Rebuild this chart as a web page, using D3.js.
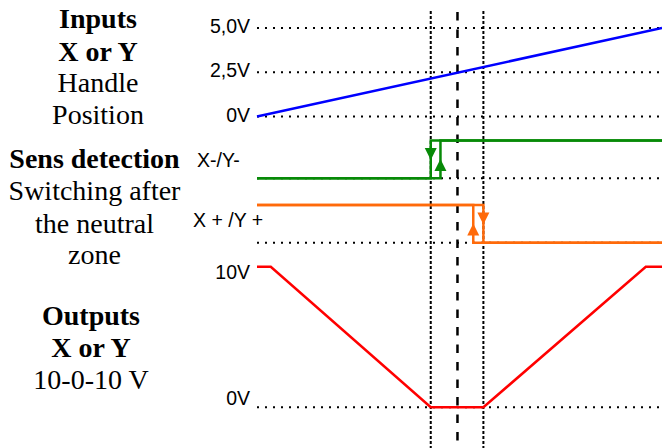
<!DOCTYPE html>
<html>
<head>
<meta charset="utf-8">
<script src="https://cdn.jsdelivr.net/npm/d3@7"></script>
<style>
	body { margin: 0; background: #fff; }
	svg { display: block; }
	.axis-label { font-family: "Liberation Sans", Arial, sans-serif; font-size: 19.5px; fill: #000; }
	.side { font-family: "Liberation Serif", "Times New Roman", serif; font-size: 28px; fill: #000; }
</style>
</head>
<body>
<svg id="chart" width="662" height="448"></svg>
<script>
// handle position in % of travel, volts
var inputTicks = [5, 2.5, 0];
var inputTickLabels = ['5,0V', '2,5V', '0V'];
var inputLine = [[0, 0], [100, 5]];

var outputTicks = [10, 0];
var outputTickLabels = ['10V', '0V'];
var outputLine = [[0, 10], [3.4, 10], [42.9, 0], [55.9, 0], [96, 10], [100, 10]];

var neutralZone = [42.9, 55.9];
var centrePos = 49.5;

// sens detection, 0 = off, 1 = on
var sensLabels = ['X-/Y-', 'X + /Y +'];
var minusRise = [[0, 0], [45.3, 0], [45.3, 1], [100, 1]];
var minusFall = [[100, 1], [42.9, 1], [42.9, 0], [0, 0]];
var plusFall = [[0, 1], [55.9, 1], [55.9, 0], [100, 0]];
var plusRise = [[100, 0], [53.4, 0], [53.4, 1], [0, 1]];
// arrows: [position, level along the edge, direction]
var minusArrows = [[42.9, 0.64, 'down'], [45.3, 0.35, 'up']];
var plusArrows = [[55.9, 0.64, 'down'], [53.4, 0.35, 'up']];

var sideTitles = [
	{ x: 98, lines: [['Inputs', true], ['X or Y', true], ['Handle', false], ['Position', false]], y: [28, 60.5, 92, 123.5] },
	{ x: 94.5, lines: [['Sens detection', true], ['Switching after', false], ['the neutral', false], ['zone', false]], y: [168, 200, 233, 263.5] },
	{ x: 91, lines: [['Outputs', true], ['X or Y', true], ['10-0-10 V', false]], y: [325, 356.5, 389] }
];

var svg = d3.select('#chart');

var x = d3.scaleLinear().domain([0, 100]).range([257, 662]);
var yIn = d3.scaleLinear().domain([0, 5]).range([116.5, 28]);
var yOut = d3.scaleLinear().domain([0, 10]).range([407.3, 266.7]);
var yMinus = d3.scaleLinear().domain([0, 1]).range([178.3, 140.5]);
var yPlus = d3.scaleLinear().domain([0, 1]).range([242.7, 205]);

var dotted = '2,6';

// horizontal dotted references
function hDots(yVal) {
	svg.append('line')
		.attr('x1', x(0)).attr('x2', x(100))
		.attr('y1', yVal).attr('y2', yVal)
		.attr('stroke', '#000')
		.attr('stroke-width', 2)
		.attr('stroke-dasharray', dotted);
}
inputTicks.forEach(d => hDots(yIn(d)));
hDots(yMinus(0));
hDots(yPlus(0));
hDots(yOut(0));

// neutral zone guides
svg.selectAll('.guide')
	.data(neutralZone)
	.enter()
	.append('line')
		.classed('guide', true)
		.attr('x1', d => x(d)).attr('x2', d => x(d))
		.attr('y1', 11).attr('y2', 448)
		.attr('stroke', '#000')
		.attr('stroke-width', 2)
		.attr('stroke-dasharray', '3,2');

svg.append('line')
	.attr('x1', x(centrePos)).attr('x2', x(centrePos))
	.attr('y1', 12).attr('y2', 448)
	.attr('stroke', '#000')
	.attr('stroke-width', 2.5)
	.attr('stroke-dasharray', '8.5,9');

function drawLine(data, yScale, colour) {
	var line = d3.line().x(d => x(d[0])).y(d => yScale(d[1]));
	svg.append('path')
		.attr('d', line(data))
		.attr('fill', 'none')
		.attr('stroke', colour)
		.attr('stroke-width', 2.5)
		.attr('stroke-linejoin', 'miter');
}

drawLine(inputLine, yIn, '#0000ff');
drawLine(minusRise, yMinus, '#078a07');
drawLine(minusFall, yMinus, '#078a07');
drawLine(plusFall, yPlus, '#ff6a0a');
drawLine(plusRise, yPlus, '#ff6a0a');
drawLine(outputLine, yOut, '#ff0000');

function drawArrows(data, yScale, colour) {
	svg.selectAll(null)
		.data(data)
		.enter()
		.append('path')
			.attr('d', 'M-6,6L6,6L0,-6Z')
			.attr('fill', colour)
			.attr('transform', d => 'translate(' + x(d[0]) + ',' + yScale(d[1]) + ') rotate(' + (d[2] === 'down' ? 180 : 0) + ')');
}
drawArrows(minusArrows, yMinus, '#078a07');
drawArrows(plusArrows, yPlus, '#ff6a0a');

// axis labels
svg.selectAll('.in-label')
	.data(inputTicks)
	.enter()
	.append('text')
		.attr('class', 'axis-label')
		.attr('x', 250)
		.attr('y', d => yIn(d) + 5)
		.attr('text-anchor', 'end')
		.text((d, i) => inputTickLabels[i]);

svg.selectAll('.out-label')
	.data(outputTicks)
	.enter()
	.append('text')
		.attr('class', 'axis-label')
		.attr('x', 250)
		.attr('y', (d, i) => i === 0 ? yOut(d) + 12 : yOut(d) - 2)
		.attr('text-anchor', 'end')
		.text((d, i) => outputTickLabels[i]);

svg.append('text')
	.attr('class', 'axis-label')
	.attr('x', 197)
	.attr('y', 166.5)
	.text(sensLabels[0]);

svg.append('text')
	.attr('class', 'axis-label')
	.attr('x', 193)
	.attr('y', 227)
	.text(sensLabels[1]);

// left side titles
sideTitles.forEach(g => {
	g.lines.forEach((l, i) => {
		svg.append('text')
			.attr('class', 'side')
			.attr('x', g.x)
			.attr('y', g.y[i])
			.attr('text-anchor', 'middle')
			.attr('font-weight', l[1] ? 'bold' : 'normal')
			.text(l[0]);
	});
});
</script>
</body>
</html>
